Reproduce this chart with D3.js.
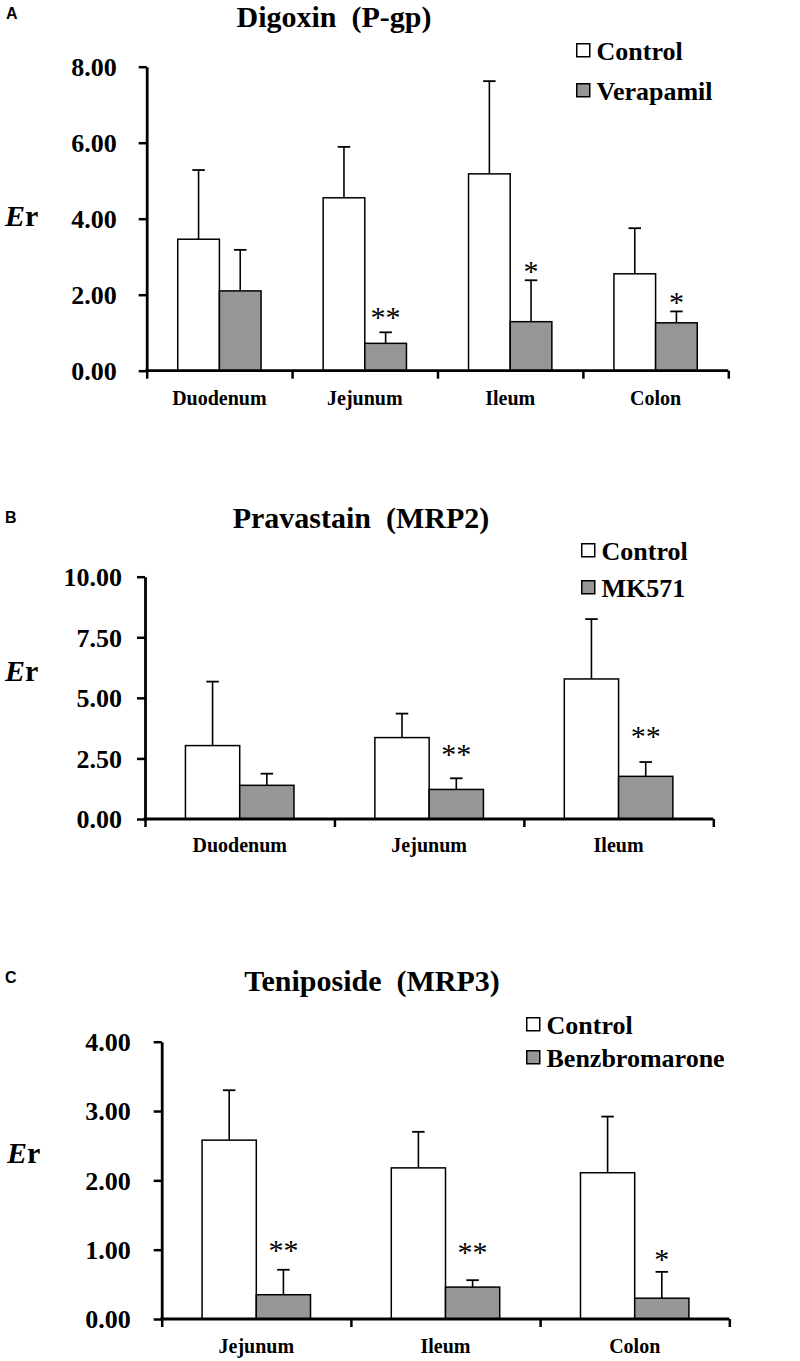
<!DOCTYPE html>
<html>
<head>
<meta charset="utf-8">
<script src="https://cdn.jsdelivr.net/npm/d3@7"></script>
<style>
  html, body { margin: 0; padding: 0; background: #fff; }
  svg { display: block; }
  text { white-space: pre; }
</style>
</head>
<body>
<svg id="chart" width="800" height="1361"></svg>
<script>
// ---------- DATA ----------
// Panel A: Digoxin (P-gp)
const catsA = ["Duodenum", "Jejunum", "Ileum", "Colon"];
const ctrlA = [3.46, 4.55, 5.18, 2.55];
const ctrlSdA = [1.82, 1.34, 2.44, 1.20];
const treatA = [2.10, 0.72, 1.29, 1.26];
const treatSdA = [1.08, 0.29, 1.09, 0.30];
const starsA = ["", "**", "*", "*"];
const starValA = [null, 1.52, 2.74, 1.92];
const ticksA = [0, 2, 4, 6, 8];

// Panel B: Pravastain (MRP2)
const catsB = ["Duodenum", "Jejunum", "Ileum"];
const ctrlB = [3.03, 3.36, 5.78];
const ctrlSdB = [2.64, 0.99, 2.47];
const treatB = [1.39, 1.22, 1.76];
const treatSdB = [0.48, 0.46, 0.59];
const starsB = ["", "**", "**"];
const starValB = [null, 2.85, 3.60];
const ticksB = [0, 2.5, 5, 7.5, 10];

// Panel C: Teniposide (MRP3)
const catsC = ["Jejunum", "Ileum", "Colon"];
const ctrlC = [2.58, 2.18, 2.11];
const ctrlSdC = [0.72, 0.52, 0.81];
const treatC = [0.35, 0.46, 0.30];
const treatSdC = [0.36, 0.10, 0.38];
const starsC = ["**", "**", "*"];
const starValC = [1.05, 1.02, 0.93];
const ticksC = [0, 1, 2, 3, 4];

const panelTags = ["A", "B", "C"];
const titles = ["Digoxin  (P-gp)", "Pravastain  (MRP2)", "Teniposide  (MRP3)"];
const treatNames = ["Verapamil", "MK571", "Benzbromarone"];
const ctrlName = "Control";

// ---------- LAYOUT ----------
const layouts = [
  {left:146.7, right:728.3, top:66.7, bottom:370.7, tag:{x:6,y:19}, title:{x:334,y:27},
   er:{x:5,y:226}, legend:{x:576,y:43,gap:40}, yPad:22, xLabelY:405},
  {left:145, right:713.3, top:576.7, bottom:819, tag:{x:5,y:523}, title:{x:361,y:528},
   er:{x:5,y:681}, legend:{x:581,y:543,gap:37}, yPad:15, xLabelY:852},
  {left:161.7, right:729.3, top:1041.7, bottom:1319, tag:{x:5,y:983}, title:{x:372,y:991},
   er:{x:7,y:1163}, legend:{x:526,y:1017,gap:33}, yPad:23, xLabelY:1353}
];

const panelsData = [
  {cats:catsA, ctrl:ctrlA, ctrlSd:ctrlSdA, treat:treatA, treatSd:treatSdA, stars:starsA, starVal:starValA, ticks:ticksA},
  {cats:catsB, ctrl:ctrlB, ctrlSd:ctrlSdB, treat:treatB, treatSd:treatSdB, stars:starsB, starVal:starValB, ticks:ticksB},
  {cats:catsC, ctrl:ctrlC, ctrlSd:ctrlSdC, treat:treatC, treatSd:treatSdC, stars:starsC, starVal:starValC, ticks:ticksC}
];

const SERIF = "'Liberation Serif', 'Times New Roman', Times, serif";
const SANS = "'Liberation Sans', Arial, Helvetica, sans-serif";
const GREY = "#969696";

const svg = d3.select("#chart");

panelsData.forEach((d, i) => {
  const L = layouts[i];
  const g = svg.append("g");

  const y = d3.scaleLinear().domain([0, d3.max(d.ticks)]).range([L.bottom, L.top]);
  const x = d3.scaleBand().domain(d.cats).range([L.left, L.right]).padding(0);
  const groups = ["ctrl", "treat"];
  const xi = d3.scaleBand().domain(groups).range([0, x.bandwidth()]).paddingInner(0).paddingOuter(0.745);

  const rows = d.cats.map((c, k) => ({
    cat: c,
    vals: [
      {g: "ctrl", v: d.ctrl[k], sd: d.ctrlSd[k], fill: "#fff"},
      {g: "treat", v: d.treat[k], sd: d.treatSd[k], fill: GREY}
    ],
    star: d.stars[k], starVal: d.starVal[k]
  }));

  const cg = g.selectAll("g.cat").data(rows).join("g").attr("class", "cat")
    .attr("transform", r => `translate(${x(r.cat)},0)`);
  const capW = 12.5;
  cg.selectAll("g.err").data(r => r.vals).join("g").attr("class", "err").each(function(v) {
    const cx = xi(v.g) + xi.bandwidth() / 2;
    const e = d3.select(this);
    e.append("line").attr("x1", cx).attr("x2", cx).attr("y1", y(v.v)).attr("y2", y(v.v + v.sd))
      .attr("stroke", "#000").attr("stroke-width", 1.6);
    e.append("line").attr("x1", cx - capW / 2).attr("x2", cx + capW / 2)
      .attr("y1", y(v.v + v.sd)).attr("y2", y(v.v + v.sd))
      .attr("stroke", "#000").attr("stroke-width", 1.8);
  });
  cg.selectAll("rect").data(r => r.vals).join("rect")
    .attr("x", v => xi(v.g))
    .attr("width", xi.bandwidth())
    .attr("y", v => y(v.v))
    .attr("height", v => y(0) - y(v.v))
    .attr("fill", v => v.fill)
    .attr("stroke", "#000")
    .attr("stroke-width", 1.5);

  // Stars
  cg.filter(r => r.star).append("text")
    .attr("x", xi("treat") + xi.bandwidth() / 2)
    .attr("y", r => y(r.starVal) + 14)
    .attr("text-anchor", "middle")
    .attr("font-family", SERIF)
    .attr("font-size", 30)
    .attr("fill", "#000")
    .text(r => r.star);

  // Y axis
  const yAxis = d3.axisLeft(y).tickValues(d.ticks).tickFormat(d3.format(".2f"))
    .tickSize(8).tickSizeOuter(0).tickPadding(L.yPad);
  const ya = g.append("g").attr("transform", `translate(${L.left},0)`).call(yAxis);
  ya.select(".domain").attr("stroke", "#000").attr("stroke-width", 2.8);
  ya.selectAll(".tick line").attr("stroke", "#000").attr("stroke-width", 2.5);
  ya.selectAll(".tick text").attr("font-family", SERIF).attr("font-weight", "bold")
    .attr("font-size", 26).attr("fill", "#000").attr("dy", "0.34em");

  // X axis: boundary ticks
  const xb = d3.scaleLinear().domain([0, d.cats.length]).range([L.left, L.right]);
  const xTicks = d3.axisBottom(xb).tickValues(d3.range(d.cats.length + 1)).tickFormat("")
    .tickSize(8).tickSizeOuter(0);
  const xa = g.append("g").attr("transform", `translate(0,${L.bottom})`).call(xTicks);
  xa.select(".domain").attr("stroke", "#000").attr("stroke-width", 2.8)
    .attr("d", `M${L.left - 1.4},0H${L.right}`);
  xa.selectAll(".tick line").attr("stroke", "#000").attr("stroke-width", 2.5);

  // X labels
  const xl = g.append("g").attr("transform", `translate(0,${L.bottom})`)
    .call(d3.axisBottom(x).tickSize(0).tickPadding(0));
  xl.select(".domain").remove();
  xl.selectAll(".tick text").attr("y", L.xLabelY - L.bottom).attr("dy", 0)
    .attr("font-family", SERIF).attr("font-weight", "bold").attr("font-size", 20).attr("fill", "#000");

  // Er label
  const er = g.append("text").attr("x", L.er.x).attr("y", L.er.y)
    .attr("font-family", SERIF).attr("font-weight", "bold").attr("font-size", 30).attr("fill", "#000");
  er.append("tspan").attr("font-style", "italic").text("E");
  er.append("tspan").text("r");

  // Title
  g.append("text").attr("x", L.title.x).attr("y", L.title.y).attr("text-anchor", "middle")
    .attr("font-family", SERIF).attr("font-weight", "bold").attr("font-size", 30).attr("fill", "#000")
    .text(titles[i]);

  // Panel tag
  g.append("text").attr("x", L.tag.x).attr("y", L.tag.y)
    .attr("font-family", SANS).attr("font-weight", "bold").attr("font-size", 16).attr("fill", "#000")
    .text(panelTags[i]);

  // Legend
  const legItems = [{name: ctrlName, fill: "#fff"}, {name: treatNames[i], fill: GREY}];
  const lg = g.append("g").attr("transform", `translate(${L.legend.x},${L.legend.y})`);
  const li = lg.selectAll("g").data(legItems).join("g")
    .attr("transform", (it, k) => `translate(0,${k * L.legend.gap})`);
  li.append("rect").attr("x", 0.75).attr("y", 0.75).attr("width", 13).attr("height", 13)
    .attr("fill", it => it.fill).attr("stroke", "#000").attr("stroke-width", 1.5);
  li.append("text").attr("x", 20.5).attr("y", 17)
    .attr("font-family", SERIF).attr("font-weight", "bold").attr("font-size", 26).attr("fill", "#000")
    .text(it => it.name);
});
</script>
</body>
</html>
